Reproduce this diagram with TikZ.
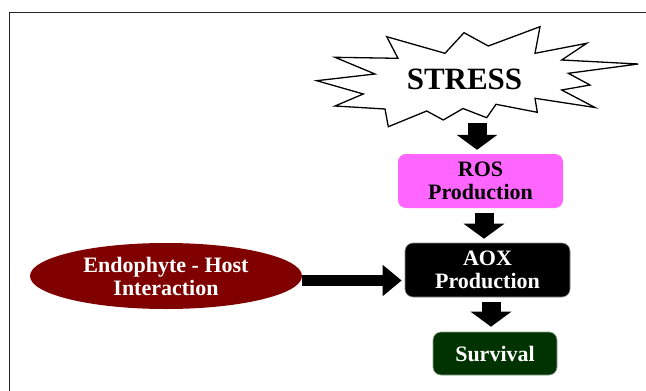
\documentclass[tikz,border=0pt]{standalone}
\usepackage{fontspec}
\setmainfont{Liberation Serif}
\usetikzlibrary{arrows.meta,shapes.geometric}
\definecolor{rosmag}{RGB}{255,102,255}
\definecolor{endored}{RGB}{128,0,0}
\definecolor{survgreen}{RGB}{0,51,0}
\tikzset{
  boxtext/.style={font=\bfseries\fontsize{22}{23}\selectfont, align=center, inner sep=0pt},
  procbox/.style={boxtext, rectangle, rounded corners=8pt},
  blk/.style={line width=19pt, -{Triangle[width=40pt,length=15pt]}},
  blkh/.style={line width=11pt, -{Triangle[width=30pt,length=19pt]}},
}
\begin{document}
\begin{tikzpicture}[x=1pt,y=-1pt]
\useasboundingbox (0,0) rectangle (646,391);
% frame
\draw[line width=1.5pt, black!85] (9.5,391) -- (9.5,12.5) -- (646,12.5);
% star burst
\draw[line width=1.3pt, fill=white, line join=miter]
 (316.7,80.7) -- (375,74) -- (335,57.3) -- (398,58.3) -- (386.7,36.7) -- (445,53.3)
 -- (464,32.7) -- (488.3,46) -- (540,26.7) -- (535,53.3) -- (586.7,43.3) -- (561.7,60)
 -- (638.3,64) -- (568.3,73.3) -- (590,85) -- (561.7,90) -- (595,107.5) -- (535,98.3)
 -- (537.3,112.3) -- (496,104.3) -- (486.7,117.7) -- (463,108.5) -- (443.3,120)
 -- (426.7,111) -- (388.3,126.7) -- (385,109) -- (335,106) -- (363.3,94) -- cycle;
\node[font=\bfseries\fontsize{31}{33}\selectfont, inner sep=0pt] (stress) at (464.5,79) {STRESS};
% boxes
\node[procbox, fill=rosmag, minimum width=165pt, minimum height=54pt] (ros) at (480.5,181) {ROS\\Production};
\node[procbox, fill=black, draw=black!45, line width=0.6pt, text=white, minimum width=165pt, minimum height=54pt] (aox) at (487.5,270) {AOX\\Production};
\node[procbox, fill=survgreen, draw=green!20!black!45, line width=0.6pt, text=white, minimum width=124pt, minimum height=43pt] (surv) at (495,353.5) {Survival};
\node[boxtext, ellipse, fill=endored, text=white, minimum width=272pt, minimum height=66pt] (endo) at (166,276) {Endophyte - Host\\Interaction};
% arrow anchors
\coordinate (a1) at (477,123);
\coordinate (a2x) at (484,0);
\coordinate (a3x) at (491,0);
\coordinate (a4y) at (0,280.5);
% arrows
\draw[blk] (a1) -- ([yshift=4pt]ros.north -| a1);
\draw[blk] ([yshift=-5pt]ros.south -| a2x) -- ([yshift=4pt]aox.north -| a2x);
\draw[blk] ([yshift=-5pt]aox.south -| a3x) -- ([yshift=5pt]surv.north -| a3x);
\draw[blkh] (endo.east |- a4y) -- ([xshift=-3pt]aox.west |- a4y);
\end{tikzpicture}
\end{document}
